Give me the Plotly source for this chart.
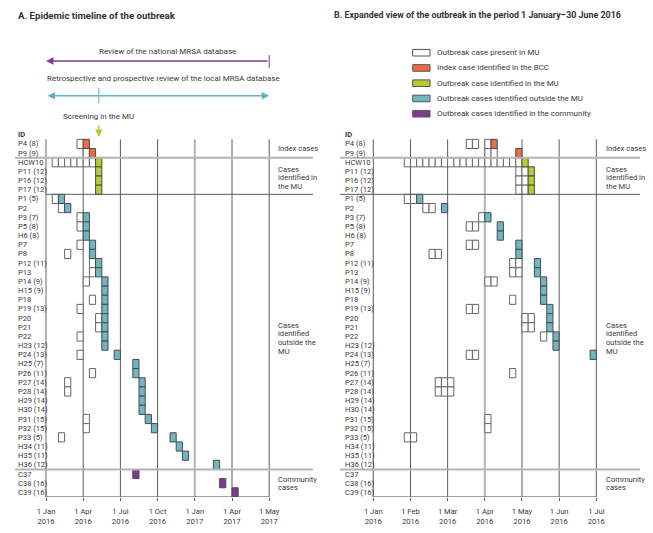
import plotly.graph_objects as go

W, H = 653, 533
FONT = "Roboto, sans-serif"
TXT = "#3a3a3a"

# ---------------- data ----------------
row_ids = ["P4 (8)", "P9 (9)", "HCW10", "P11 (12)", "P16 (12)", "P17 (12)",
           "P1 (5)", "P2", "P3 (7)", "P5 (8)", "H6 (8)", "P7", "P8", "P12 (11)",
           "P13", "P14 (9)", "H15 (9)", "P18", "P19 (13)", "P20", "P21", "P22",
           "H23 (12)", "P24 (13)", "H25 (7)", "P26 (11)", "P27 (14)", "P28 (14)",
           "H29 (14)", "H30 (14)", "P31 (15)", "P32 (15)", "P33 (5)", "H34 (11)",
           "H35 (11)", "H36 (12)", "C37", "C38 (16)", "C39 (16)"]
row_group = ["index"] * 2 + ["mu"] * 4 + ["outside"] * 30 + ["community"] * 3

# Panel A: periods of half a month from 1 Jan 2016 (6 periods per axis interval of 3 months)
a_present = {"P4 (8)": [5], "P9 (9)": [6], "HCW10": [1, 2, 3, 4, 5, 6, 7],
             "P1 (5)": [1], "P2": [2], "P3 (7)": [5], "P5 (8)": [5], "P7": [5], "P8": [3],
             "P12 (11)": [7], "P13": [7], "P14 (9)": [6], "P18": [7], "P19 (13)": [5],
             "P20": [8], "P21": [8], "P22": [5], "P24 (13)": [5], "P26 (11)": [7],
             "P27 (14)": [3], "P28 (14)": [3], "P31 (15)": [6], "P32 (15)": [6], "P33 (5)": [2]}
a_identified = {"P4 (8)": 6, "P9 (9)": 7, "HCW10": 8, "P11 (12)": 8, "P16 (12)": 8, "P17 (12)": 8,
                "P1 (5)": 2, "P2": 3, "P3 (7)": 6, "P5 (8)": 6, "H6 (8)": 6, "P7": 7, "P8": 7,
                "P12 (11)": 8, "P13": 8, "P14 (9)": 9, "H15 (9)": 9, "P18": 9, "P19 (13)": 9,
                "P20": 9, "P21": 9, "P22": 9, "H23 (12)": 9, "P24 (13)": 11, "H25 (7)": 14,
                "P26 (11)": 14, "P27 (14)": 15, "P28 (14)": 15, "H29 (14)": 15, "H30 (14)": 15,
                "P31 (15)": 16, "P32 (15)": 17, "P33 (5)": 20, "H34 (11)": 21, "H35 (11)": 22,
                "H36 (12)": 27, "C37": 14, "C38 (16)": 28, "C39 (16)": 30}
a_ticks = ["1 Jan<br>2016", "1 Apr<br>2016", "1 Jul<br>2016", "1 Oct<br>2016",
           "1 Jan<br>2017", "1 Apr<br>2017", "1 May<br>2017"]
a_emph = [0, 4]

# Panel B: periods of ~5 days from 1 Jan 2016 (6 periods per month)
b_present = {"P4 (8)": [15, 16, 18], "P9 (9)": [18, 19], "HCW10": list(range(5, 24)),
             "P11 (12)": [23, 24], "P16 (12)": [23, 24], "P17 (12)": [23, 24],
             "P1 (5)": [5, 6], "P2": [8, 9], "P3 (7)": [17], "P5 (8)": [15, 16], "P7": [15, 16],
             "P8": [9, 10], "P12 (11)": [22, 23], "P13": [22, 23], "P14 (9)": [18, 19],
             "P18": [22], "P19 (13)": [15, 16], "P20": [24, 25], "P21": [24, 25], "P22": [27],
             "P24 (13)": [15, 16], "P26 (11)": [22], "P27 (14)": [10, 11, 12],
             "P28 (14)": [10, 11, 12], "P31 (15)": [18], "P32 (15)": [18], "P33 (5)": [5, 6]}
b_identified = {"P4 (8)": 19, "P9 (9)": 23, "HCW10": 24, "P11 (12)": 25, "P16 (12)": 25,
                "P17 (12)": 25, "P1 (5)": 7, "P2": 11, "P3 (7)": 18, "P5 (8)": 20, "H6 (8)": 20,
                "P7": 23, "P8": 23, "P12 (11)": 26, "P13": 26, "P14 (9)": 27, "H15 (9)": 27,
                "P18": 27, "P19 (13)": 28, "P20": 28, "P21": 28, "P22": 29, "H23 (12)": 29,
                "P24 (13)": 35}
b_ticks = ["1 Jan<br>2016", "1 Feb<br>2016", "1 Mar<br>2016", "1 Apr<br>2016",
           "1 May<br>2016", "1 Jun<br>2016", "1 Jul<br>2016"]
b_emph = [3]

periods_per_interval = 6
screening_x = 1.42          # on panel A axis
review_span = [0, 6]        # on panel A axis

colors = {"present": "#ffffff", "index": "#ee6a40", "mu": "#b7cc30",
          "outside": "#6fb7c0", "community": "#7d3b8e"}
legend_items = [("present", "Outbreak case present in MU"),
                ("index", "Index case identified in the BCC"),
                ("mu", "Outbreak case identified in the MU"),
                ("outside", "Outbreak cases identified outside the MU"),
                ("community", "Outbreak cases identified in the community")]
group_labels = [(0.5, "Index cases"), (2.74, "Cases"), (3.7, "identified in"), (4.67, "the MU"),
                (19.76, "Cases"), (20.65, "identified"), (21.64, "outside the"), (22.66, "MU"),
                (36.57, "Community"), (37.52, "cases")]

# ---------------- layout helpers ----------------
def pxx(p):
    return p / W

def pxy(p):
    return 1 - p / H

FS_ROW, FS_GRP, FS_TXT, FS_TICK = 7.6, 7.6, 8.0, 7.6
FS_TITLE_A, FS_TITLE_B = 9.6, 8.9

ROW0, ROWH = 143.9, 9.17
y_range = [38.5, -1.0]
y_dom = [pxy(ROW0 + ROWH * y_range[0]), pxy(ROW0 + ROWH * y_range[1])]
XR = [-0.3, 7.0]
panels = {
    "A": dict(x0=46.0, unit=37.2, xa="x", ya="y", present=a_present, ident=a_identified,
              ticks=a_ticks, emph=a_emph, labx=15.5, grpx=276, sep_l=15, dark_l=46, sep_r=313),
    "B": dict(x0=373.3, unit=37.17, xa="x2", ya="y2", present=b_present, ident=b_identified,
              ticks=b_ticks, emph=b_emph, labx=343, grpx=604, sep_l=340, dark_l=340, sep_r=640),
}

fig = go.Figure()
shapes, annos = [], []
LINE = "#5a5a5a"
LIGHT = "#b4b4b4"

for key, p in panels.items():
    xa, ya = p["xa"], p["ya"]
    # present boxes
    ys, bs = [], []
    for rid, slots in p["present"].items():
        for s in slots:
            ys.append(row_ids.index(rid))
            bs.append(s / periods_per_interval)
    fig.add_trace(go.Bar(orientation="h", y=ys, base=bs, x=[1 / periods_per_interval] * len(ys),
                         width=1, marker=dict(color=colors["present"], line=dict(color="#666", width=1)),
                         xaxis=xa, yaxis=ya, showlegend=False, hoverinfo="skip"))
    for grp in ["index", "mu", "outside", "community"]:
        ys, bs = [], []
        for rid, s in p["ident"].items():
            i = row_ids.index(rid)
            if row_group[i] == grp:
                ys.append(i)
                bs.append(s / periods_per_interval)
        fig.add_trace(go.Bar(orientation="h", y=ys, base=bs, x=[1 / periods_per_interval] * len(ys),
                             width=1, marker=dict(color=colors[grp], line=dict(color="#4a4a4a", width=1)),
                             xaxis=xa, yaxis=ya, showlegend=False, hoverinfo="skip"))
    # vertical grid lines
    for t in range(len(p["ticks"])):
        em = t in p["emph"]
        shapes.append(dict(type="line", xref=xa, yref=ya, x0=t, x1=t, y0=-0.5, y1=38.5, layer="below",
                           line=dict(color=LIGHT if em else LINE, width=2 if em else 1)))
    # horizontal separators
    for yv, col, wd, left in [(1.5, LIGHT, 2, p["sep_l"]), (35.5, LIGHT, 2, p["sep_l"]),
                              (5.5, LINE, 1, p["dark_l"])]:
        shapes.append(dict(type="line", xref="paper", yref=ya, x0=pxx(left), x1=pxx(p["sep_r"]),
                           y0=yv, y1=yv, line=dict(color=col, width=wd)))
    shapes.append(dict(type="line", xref=xa, yref=ya, x0=0, x1=len(p["ticks"]) - 1, y0=38.5, y1=38.5,
                       line=dict(color=LINE, width=1)))
    # row labels
    annos.append(dict(text="<b>ID</b>", xref="paper", yref=ya, x=pxx(p["labx"]), y=-1.0,
                      xanchor="left", yanchor="middle", showarrow=False, font=dict(size=FS_ROW, color=TXT)))
    for i, rid in enumerate(row_ids):
        annos.append(dict(text=rid, xref="paper", yref=ya, x=pxx(p["labx"]), y=i,
                          xanchor="left", yanchor="middle", showarrow=False,
                          font=dict(size=FS_ROW, color=TXT)))
    for yv, txt in group_labels:
        annos.append(dict(text=txt, xref="paper", yref=ya, x=pxx(p["grpx"]), y=yv,
                          xanchor="left", yanchor="middle", showarrow=False,
                          font=dict(size=FS_GRP, color=TXT)))

# titles
annos.append(dict(text="<b>A. Epidemic timeline of the outbreak</b>", xref="paper", yref="paper",
                  x=pxx(16), y=pxy(15), xanchor="left", yanchor="middle", showarrow=False,
                  font=dict(size=FS_TITLE_A, color="#333")))
annos.append(dict(text="<b>B. Expanded view of the outbreak in the period 1 January–30 June 2016</b>",
                  xref="paper", yref="paper", x=pxx(332), y=pxy(15), xanchor="left", yanchor="middle",
                  showarrow=False, font=dict(size=FS_TITLE_B, color="#333")))

# review arrows (panel A)
PURP, TEAL, GREEN = "#7b3f8c", "#5fb3bc", "#b2cc2a"
annos.append(dict(text="Review of the national MRSA database", xref="paper", yref="paper",
                  x=pxx(167), y=pxy(52), xanchor="center", yanchor="middle", showarrow=False,
                  font=dict(size=FS_TXT, color=TXT)))
annos.append(dict(text="", xref="x", yref="paper", x=review_span[0], y=pxy(61), axref="x", ax=review_span[1],
                  ayref="pixel", ay=0, showarrow=True, arrowhead=2, arrowsize=1, arrowwidth=1.5,
                  arrowcolor=PURP, standoff=0, startstandoff=0))
shapes.append(dict(type="line", xref="x", yref="paper", x0=review_span[1], x1=review_span[1],
                   y0=pxy(55), y1=pxy(68), line=dict(color=PURP, width=1)))
annos.append(dict(text="Retrospective and prospective review of the local MRSA database", xref="paper",
                  yref="paper", x=pxx(164), y=pxy(79), xanchor="center", yanchor="middle", showarrow=False,
                  font=dict(size=FS_TXT, color=TXT)))
annos.append(dict(text="", xref="x", yref="paper", x=review_span[1], y=pxy(95.7), axref="x", ax=review_span[0],
                  ayref="pixel", ay=0, showarrow=True, arrowhead=2, arrowside="end+start", arrowsize=1,
                  arrowwidth=1.5, arrowcolor=TEAL, standoff=0, startstandoff=0))
shapes.append(dict(type="line", xref="x", yref="paper", x0=screening_x, x1=screening_x,
                   y0=pxy(88), y1=pxy(103), line=dict(color=TEAL, width=1)))
annos.append(dict(text="Screening in the MU", xref="paper", yref="paper", x=pxx(98), y=pxy(117),
                  xanchor="center", yanchor="middle", showarrow=False, font=dict(size=FS_TXT, color=TXT)))
annos.append(dict(text="", xref="x", yref="paper", x=screening_x, y=pxy(137), ax=0, ay=-13,
                  showarrow=True, arrowhead=2, arrowsize=1, arrowwidth=1.5, arrowcolor=GREEN, standoff=0))

# legend (panel B)
for k, (grp, txt) in enumerate(legend_items):
    yc = 52.7 + 15.25 * k
    shapes.append(dict(type="rect", xref="paper", yref="paper", x0=pxx(412.7), x1=pxx(430),
                       y0=pxy(yc + 3.3), y1=pxy(yc - 3.3), fillcolor=colors[grp],
                       line=dict(color="#555", width=1)))
    annos.append(dict(text=txt, xref="paper", yref="paper", x=pxx(435), y=pxy(yc), xanchor="left",
                      yanchor="middle", showarrow=False, font=dict(size=FS_TXT, color=TXT)))

axis_common = dict(range=XR, tickmode="array", tickvals=list(range(7)), showgrid=False, zeroline=False,
                   showline=False, ticks="outside", ticklen=3, tickcolor=LINE, tickwidth=1,
                   ticklabelstandoff=4,
                   tickfont=dict(size=FS_TICK, color=TXT, family=FONT), fixedrange=True)
yaxis_common = dict(range=y_range, domain=y_dom, showgrid=False, zeroline=False, showline=False,
                    showticklabels=False, ticks="", fixedrange=True)

pa, pb = panels["A"], panels["B"]
fig.update_layout(
    width=W, height=H, margin=dict(l=0, r=0, t=0, b=0),
    paper_bgcolor="white", plot_bgcolor="rgba(0,0,0,0)",
    font=dict(family=FONT, color=TXT),
    barmode="overlay", showlegend=False,
    xaxis=dict(axis_common, domain=[pxx(pa["x0"] + XR[0] * pa["unit"]), pxx(pa["x0"] + XR[1] * pa["unit"])],
               ticktext=pa["ticks"], anchor="y"),
    yaxis=dict(yaxis_common, anchor="x"),
    xaxis2=dict(axis_common, domain=[pxx(pb["x0"] + XR[0] * pb["unit"]), pxx(pb["x0"] + XR[1] * pb["unit"])],
                ticktext=pb["ticks"], anchor="y2"),
    yaxis2=dict(yaxis_common, anchor="x2"),
    shapes=shapes, annotations=annos,
)

fig.write_html("out.html", config={"displayModeBar": False},
               post_script="document.body.style.margin='0px';")
